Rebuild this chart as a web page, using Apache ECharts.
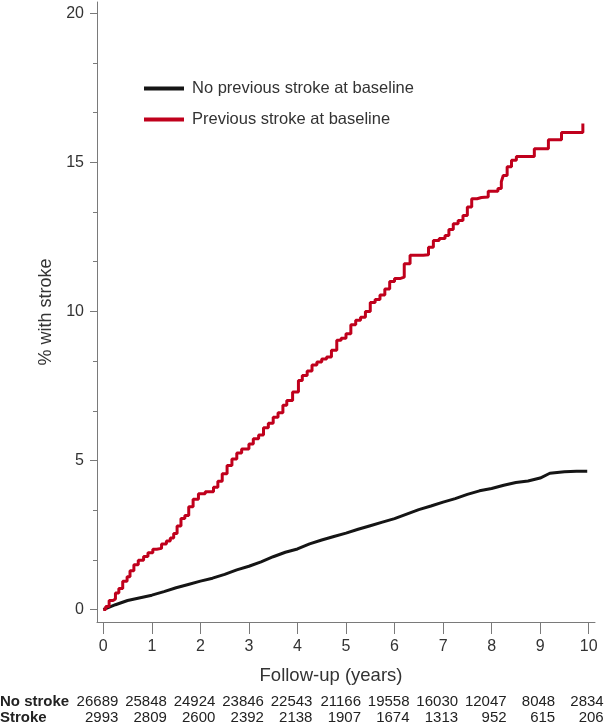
<!DOCTYPE html>
<html>
<head>
<meta charset="utf-8">
<script src="https://cdn.jsdelivr.net/npm/echarts@6/dist/echarts.min.js"></script>
<style>
  html, body { margin: 0; padding: 0; background: #fff; }
  #chart { width: 605px; height: 725px; }
</style>
</head>
<body>
<div id="chart"></div>
<script>
// ---- data ----
const years = [0, 1, 2, 3, 4, 5, 6, 7, 8, 9, 10];
const yTickValues = [0, 5, 10, 15, 20];
const yMinorTickValues = [5/3, 10/3, 20/3, 25/3, 35/3, 40/3, 50/3, 55/3];
const noStrokeAtRisk = [26689, 25848, 24924, 23846, 22543, 21166, 19558, 16030, 12047, 8048, 2834];
const strokeAtRisk = [2993, 2809, 2600, 2392, 2138, 1907, 1674, 1313, 952, 615, 206];
const riskRowLabels = ['No stroke', 'Stroke'];
const seriesNames = ['No previous stroke at baseline', 'Previous stroke at baseline'];

// No previous stroke: follow-up time (years), % with stroke
const noPrevT = [0, 0.1, 0.25, 0.5, 0.69, 1.0, 1.25, 1.5, 1.75, 2.0, 2.25, 2.5, 2.75, 3.0, 3.25, 3.5, 3.75, 4.0, 4.25, 4.5, 4.75, 5.0, 5.25, 5.5, 5.75, 6.0, 6.25, 6.5, 6.75, 7.0, 7.25, 7.5, 7.75, 8.0, 8.25, 8.5, 8.75, 9.0, 9.2, 9.5, 9.75, 9.97];
const noPrevY = [0, 0.06, 0.16, 0.3, 0.37, 0.48, 0.6, 0.73, 0.84, 0.95, 1.05, 1.18, 1.33, 1.45, 1.6, 1.77, 1.92, 2.03, 2.2, 2.33, 2.45, 2.56, 2.69, 2.81, 2.93, 3.05, 3.2, 3.35, 3.47, 3.6, 3.72, 3.86, 3.98, 4.06, 4.17, 4.26, 4.31, 4.41, 4.57, 4.62, 4.64, 4.64];

// Previous stroke: event time (years) and % with stroke from that time on (step curve)
const prevT = [0, 0.05, 0.12, 0.2, 0.25, 0.32, 0.4, 0.49, 0.55, 0.63, 0.72, 0.83, 0.92, 1.02, 1.1, 1.2, 1.3, 1.38, 1.45, 1.52, 1.6, 1.68, 1.76, 1.85, 1.96, 2.1, 2.27, 2.36, 2.45, 2.55, 2.65, 2.75, 2.85, 3.0, 3.09, 3.2, 3.3, 3.4, 3.5, 3.6, 3.7, 3.78, 3.9, 4.02, 4.1, 4.2, 4.3, 4.4, 4.5, 4.6, 4.7, 4.81, 4.9, 5.0, 5.1, 5.2, 5.3, 5.4, 5.5, 5.6, 5.7, 5.8, 5.9, 6.0, 6.11, 6.2, 6.32, 6.59, 6.7, 6.8, 6.92, 7.04, 7.12, 7.21, 7.31, 7.41, 7.5, 7.59, 7.7, 7.79, 7.93, 8.13, 8.2, 8.24, 8.32, 8.41, 8.51, 8.88, 9.17, 9.44, 9.88];
const prevY = [0, 0.1, 0.3, 0.35, 0.55, 0.7, 0.95, 1.1, 1.3, 1.5, 1.65, 1.78, 1.9, 2.02, 2.05, 2.2, 2.3, 2.4, 2.55, 2.8, 3.05, 3.15, 3.45, 3.7, 3.88, 3.95, 4.1, 4.3, 4.55, 4.83, 5.05, 5.25, 5.38, 5.55, 5.73, 5.85, 6.1, 6.25, 6.45, 6.6, 6.85, 7.01, 7.3, 7.68, 7.85, 8.0, 8.2, 8.3, 8.4, 8.47, 8.7, 9.03, 9.1, 9.25, 9.55, 9.7, 9.8, 10.0, 10.3, 10.4, 10.55, 10.75, 11.0, 11.1, 11.15, 11.6, 11.88, 11.9, 12.15, 12.38, 12.45, 12.55, 12.75, 12.94, 13.05, 13.22, 13.5, 13.78, 13.82, 13.84, 14.03, 14.12, 14.35, 14.56, 14.85, 15.07, 15.2, 15.46, 15.76, 16.0, 16.3];

// ---- chart ----
const FONT = 'Liberation Sans, Arial, sans-serif';
const AXIS_GRAY = '#7a7a7a';
const TEXT = '#333';
const X_MIN = -0.13, X_MAX = 10.13, Y_MIN = -0.42, Y_MAX = 20.38;
const gridBox = { left: 97, right: 10, top: 2, bottom: 103 };

const chart = echarts.init(document.getElementById('chart'), null, { renderer: 'canvas' });

function zip(a, b) { return a.map((v, i) => [v, b[i]]); }

const option = {
  animation: false,
  backgroundColor: '#fff',
  textStyle: { fontFamily: FONT },
  grid: [Object.assign({}, gridBox), Object.assign({}, gridBox)],
  legend: {
    data: seriesNames,
    orient: 'vertical',
    left: 144,
    top: 80,
    padding: 0,
    icon: 'rect',
    itemWidth: 40,
    itemHeight: 4,
    itemGap: 14,
    textStyle: { fontSize: 16.5, color: TEXT, fontFamily: FONT, padding: [0, 0, 0, 3] }
  },
  xAxis: [
    {
      gridIndex: 0, type: 'value', min: X_MIN, max: X_MAX,
      splitLine: { show: false },
      axisLine: { onZero: false, lineStyle: { color: AXIS_GRAY, width: 1 } },
      axisTick: { customValues: years, length: 12, lineStyle: { color: AXIS_GRAY } },
      axisLabel: { customValues: years, margin: 17, fontSize: 16, color: TEXT, fontFamily: FONT },
      name: 'Follow-up (years)', nameLocation: 'middle', nameGap: 44,
      nameTextStyle: { fontSize: 18.5, color: TEXT, fontFamily: FONT, padding: [0, 30, 0, 0] }
    },
    {
      gridIndex: 1, type: 'value', min: X_MIN, max: X_MAX, show: false,
      axisLine: { onZero: false }
    }
  ],
  yAxis: [
    {
      gridIndex: 0, type: 'value', min: Y_MIN, max: Y_MAX,
      splitLine: { show: false },
      axisLine: { show: true, onZero: false, lineStyle: { color: AXIS_GRAY, width: 1 } },
      axisTick: { show: true, customValues: yTickValues, length: 7, lineStyle: { color: AXIS_GRAY } },
      axisLabel: { customValues: yTickValues, margin: 13, fontSize: 16, color: TEXT, fontFamily: FONT },
      name: '% with stroke', nameLocation: 'middle', nameGap: 36,
      nameTextStyle: { fontSize: 18, color: TEXT, fontFamily: FONT }
    },
    {
      gridIndex: 1, type: 'value', min: Y_MIN, max: Y_MAX,
      splitLine: { show: false },
      axisLine: { show: false, onZero: false },
      axisTick: { show: true, customValues: yMinorTickValues, length: 4, lineStyle: { color: AXIS_GRAY } },
      axisLabel: { show: false }
    }
  ],
  series: [
    {
      name: seriesNames[0], type: 'line', xAxisIndex: 0, yAxisIndex: 0,
      data: zip(noPrevT, noPrevY), showSymbol: false, symbol: 'none',
      lineStyle: { color: '#151515', width: 3 }, itemStyle: { color: '#151515' }
    },
    {
      name: seriesNames[1], type: 'line', xAxisIndex: 0, yAxisIndex: 0, step: 'end',
      data: zip(prevT, prevY), showSymbol: false, symbol: 'none',
      lineStyle: { color: '#c0001c', width: 3 }, itemStyle: { color: '#c0001c' }
    }
  ]
};
chart.setOption(option);

// ---- number-at-risk table, placed from the x scale of the chart ----
const rowY = [701.5, 718];
const riskRows = [noStrokeAtRisk, strokeAtRisk];
const graphics = [];
riskRowLabels.forEach((label, r) => {
  graphics.push({
    type: 'text', x: 0, y: rowY[r],
    style: { text: label, font: 'bold 15px ' + FONT, fill: '#222', align: 'left', verticalAlign: 'middle', textAlign: 'left', textVerticalAlign: 'middle' }
  });
  riskRows[r].forEach((n, i) => {
    const px = chart.convertToPixel({ xAxisIndex: 0 }, years[i]);
    graphics.push({
      type: 'text', x: px + 15, y: rowY[r],
      style: { text: String(n), font: '15px ' + FONT, fill: '#222', align: 'right', verticalAlign: 'middle', textAlign: 'right', textVerticalAlign: 'middle' }
    });
  });
});
chart.setOption({ graphic: graphics });
</script>
</body>
</html>
